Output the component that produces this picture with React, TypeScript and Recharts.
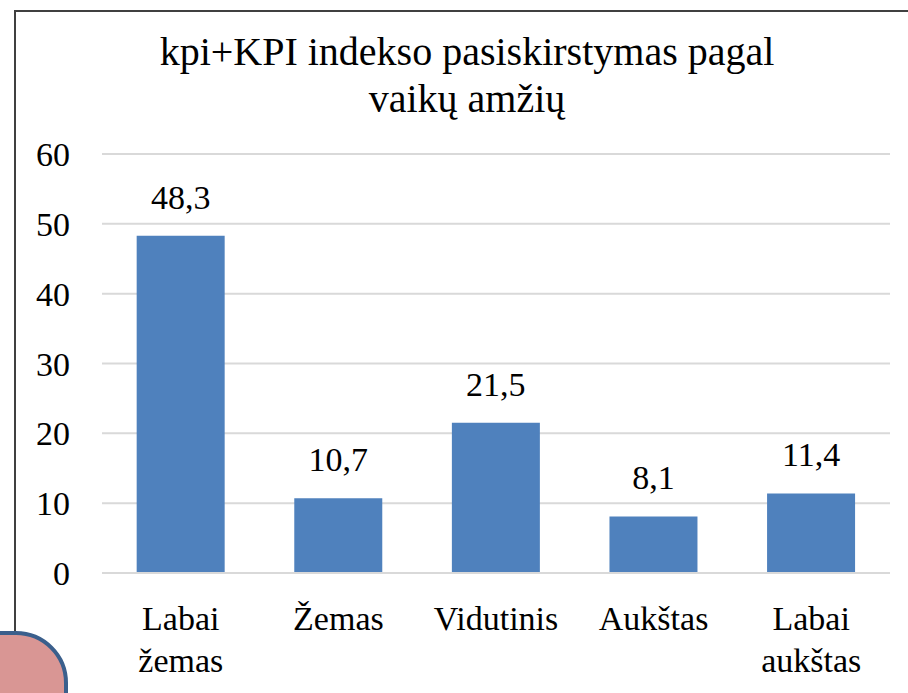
import React from "react";
import { BarChart, Bar, XAxis, YAxis, CartesianGrid, LabelList } from "recharts";

// ===== Dữ liệu =====
const categories = ["Labai žemas", "Žemas", "Vidutinis", "Aukštas", "Labai aukštas"];
const values = [48.3, 10.7, 21.5, 8.1, 11.4];
const yTicks = [0, 10, 20, 30, 40, 50, 60];
const titleLines = ["kpi+KPI indekso pasiskirstymas pagal", "vaikų amžių"];

const FONT = "'Liberation Serif', 'Times New Roman', serif";

const data = categories.map((name, i) => ({ name, value: values[i] }));

// ép font có chân cho mọi chữ trong SVG
const fontCss = `#root svg text, #root svg tspan { font-family: 'Liberation Serif', 'Times New Roman', serif !important; }`;

// tick nhiều dòng cho trục X
const CategoryTick = (props: any) => {
  const { x, y, payload } = props;
  const words = String(payload.value).split(" ");
  return (
    <text x={x} textAnchor="middle" fontFamily={FONT} fontSize={34} fill="#000">
      {words.map((w: string, i: number) => (
        <tspan key={i} x={x} y={y + 57 + i * 42}>
          {w}
        </tspan>
      ))}
    </text>
  );
};

// tick trục Y
const ValueTick = (props: any) => {
  const { x, y, payload } = props;
  return (
    <text x={x} y={y + 12} textAnchor="end" fontFamily={FONT} fontSize={34} fill="#000">
      {payload.value}
    </text>
  );
};

const renderLabel = (props: any) => {
  const { x, y, width, value } = props;
  return (
    <text x={x + width / 2} y={y - 27} textAnchor="middle" fontFamily={FONT} fontSize={34} fill="#000">
      {String(value).replace(".", ",")}
    </text>
  );
};

export default function App() {
  return (
    <div style={{ position: "absolute", left: 0, top: 0, width: 908, height: 693, overflow: "hidden", background: "#fff", fontFamily: FONT }}>
      <style>{fontCss}</style>
      <BarChart
        width={908}
        height={693}
        data={data}
        margin={{ top: 154, right: 18, left: 42, bottom: 0 }}
        barCategoryGap="22%"
      >
        <CartesianGrid vertical={false} stroke="#d9d9d9" strokeWidth={2} />
        <XAxis
          dataKey="name"
          height={120}
          axisLine={{ stroke: "#d9d9d9", strokeWidth: 2 }}
          tickLine={false}
          tickSize={0}
          tickMargin={0}
          interval={0}
          tick={<CategoryTick />}
        />
        <YAxis
          width={60}
          domain={[0, 60]}
          ticks={yTicks}
          axisLine={false}
          tickLine={false}
          tickSize={0}
          tickMargin={32}
          tick={<ValueTick />}
        />
        <Bar dataKey="value" fill="#4f81bd" isAnimationActive={false}>
          <LabelList dataKey="value" content={renderLabel} />
        </Bar>
      </BarChart>
      <svg width={908} height={693} style={{ position: "absolute", left: 0, top: 0, pointerEvents: "none" }}>
        {/* khung viền */}
        <path d="M15 700 L15 11 L920 11" fill="none" stroke="#404040" strokeWidth={2} />
        {/* hình trang trí góc dưới */}
        <rect x={-60} y={633} width={126} height={140} rx={50} ry={50} fill="#d99694" stroke="#3b5f8c" strokeWidth={4} />
      </svg>
      <div
        style={{
          position: "absolute",
          left: 0,
          top: 28,
          width: 934,
          textAlign: "center",
          fontFamily: FONT,
          fontSize: 40,
          lineHeight: "47px",
          color: "#000",
        }}
      >
        {titleLines.map((t, i) => (
          <div key={i}>{t}</div>
        ))}
      </div>
    </div>
  );
}
